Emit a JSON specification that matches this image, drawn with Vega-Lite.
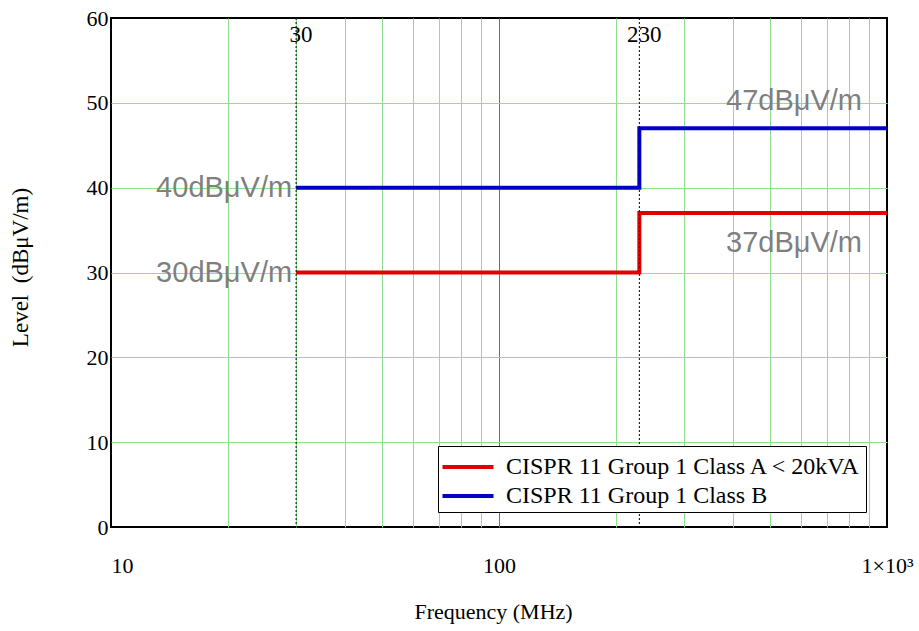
{
  "$schema": "https://vega.github.io/schema/vega-lite/v6.json",
  "width": 776,
  "height": 509,
  "autosize": "none",
  "padding": {"left": 111, "top": 18, "right": 32, "bottom": 104},
  "background": "white",
  "config": {
    "view": {"stroke": "black", "strokeWidth": 2},
    "font": "Liberation Serif"
  },
  "datasets": {
    "limits": [
      {"f": 30, "level": 30, "series": "CISPR 11 Group 1 Class A < 20kVA"},
      {"f": 230, "level": 37, "series": "CISPR 11 Group 1 Class A < 20kVA"},
      {"f": 1000, "level": 37, "series": "CISPR 11 Group 1 Class A < 20kVA"},
      {"f": 30, "level": 40, "series": "CISPR 11 Group 1 Class B"},
      {"f": 230, "level": 47, "series": "CISPR 11 Group 1 Class B"},
      {"f": 1000, "level": 47, "series": "CISPR 11 Group 1 Class B"}
    ],
    "markers": [
      {"f": 30, "level": 58, "label": "30"},
      {"f": 230, "level": 58, "label": "230"}
    ],
    "notes": [
      {"f": 30, "level": 40, "label": "40dBμV/m"},
      {"f": 30, "level": 30, "label": "30dBμV/m"},
      {"f": 883, "level": 50.2, "label": "47dBμV/m"},
      {"f": 883, "level": 33.5, "label": "37dBμV/m"}
    ]
  },
  "layer": [
    {
      "data": {"name": "limits"},
      "mark": {"type": "line", "interpolate": "step-after", "strokeWidth": 4},
      "encoding": {
        "x": {
          "field": "f",
          "type": "quantitative",
          "scale": {"type": "log", "domain": [10, 1000], "nice": false},
          "axis": {
            "title": "Frequency (MHz)",
            "titleFont": "Liberation Serif",
            "titleFontSize": 22,
            "titleFontWeight": "normal",
            "titleColor": "black",
            "titleX": 382,
            "titleY": 84,
            "titleBaseline": "middle",
            "values": [10, 20, 30, 40, 50, 60, 70, 80, 90, 100, 200, 300, 400, 500, 600, 700, 800, 900, 1000],
            "labelExpr": "datum.value == 10 ? '10' : datum.value == 100 ? '100' : datum.value == 1000 ? '1×10³' : ''",
            "labelFont": "Liberation Serif",
            "labelFontSize": 22,
            "labelColor": "black",
            "labelPadding": 28,
            "labelOverlap": false,
            "labelFlush": false,
            "labelBound": false,
            "labelAlign": {"condition": {"test": "datum.value == 10", "value": "left"}, "value": "center"},
            "ticks": false,
            "domain": false,
            "grid": true,
            "gridColor": {"condition": [
              {"test": "datum.value == 100", "value": "#6e6e6e"},
              {"test": "datum.value == 10 || datum.value == 1000", "value": "transparent"}
            ], "value": "#8fdf8f"},
            "gridWidth": 1,
            "gridOpacity": 1
          }
        },
        "y": {
          "field": "level",
          "type": "quantitative",
          "scale": {"domain": [0, 60], "nice": false, "zero": true},
          "axis": {
            "title": "Level\u00a0 (dBμV/m)",
            "titleFont": "Liberation Serif",
            "titleFontSize": 23,
            "titleFontWeight": "normal",
            "titleColor": "black",
            "titleX": -91,
            "titleY": 249,
            "titleBaseline": "middle",
            "titleAngle": -90,
            "values": [0, 10, 20, 30, 40, 50, 60],
            "labelFont": "Liberation Serif",
            "labelFontSize": 22,
            "labelColor": "black",
            "labelPadding": 3,
            "labelOverlap": false,
            "labelFlush": false,
            "ticks": false,
            "domain": false,
            "grid": true,
            "gridColor": {"condition": {"test": "datum.value == 0 || datum.value == 60", "value": "transparent"}, "value": "#8fdf8f"},
            "gridWidth": 1,
            "gridOpacity": 1
          }
        },
        "color": {
          "field": "series",
          "type": "nominal",
          "scale": {
            "domain": ["CISPR 11 Group 1 Class A < 20kVA", "CISPR 11 Group 1 Class B"],
            "range": ["#e00000", "#0000c8"]
          },
          "legend": {
            "orient": "none",
            "legendX": 327,
            "legendY": 428,
            "title": null,
            "symbolType": "M-1.1,0H2.3",
            "symbolSize": 900,
            "symbolStrokeWidth": 4,
            "labelFont": "Liberation Serif",
            "labelFontSize": 24,
            "labelColor": "black",
            "labelOffset": 30,
            "strokeColor": "black",
            "fillColor": "white",
            "padding": 4,
            "rowPadding": 0,
            "labelLimit": 500
          }
        }
      }
    },
    {
      "data": {"name": "markers"},
      "mark": {"type": "rule", "color": "black", "strokeWidth": 1, "strokeDash": [2, 2]},
      "encoding": {
        "x": {"field": "f", "type": "quantitative", "scale": {"type": "log", "domain": [10, 1000], "nice": false}}
      }
    },
    {
      "data": {"name": "markers"},
      "mark": {"type": "text", "font": "Liberation Serif", "fontSize": 23, "color": "black", "align": "center", "baseline": "middle", "dx": 5},
      "encoding": {
        "x": {"field": "f", "type": "quantitative", "scale": {"type": "log", "domain": [10, 1000], "nice": false}},
        "y": {"field": "level", "type": "quantitative", "scale": {"domain": [0, 60], "nice": false}},
        "text": {"field": "label"}
      }
    },
    {
      "data": {"name": "notes"},
      "mark": {"type": "text", "font": "Liberation Sans", "fontSize": 29, "color": "#7f7f7f", "align": "right", "baseline": "middle", "dx": -4},
      "encoding": {
        "x": {"field": "f", "type": "quantitative", "scale": {"type": "log", "domain": [10, 1000], "nice": false}},
        "y": {"field": "level", "type": "quantitative", "scale": {"domain": [0, 60], "nice": false}},
        "text": {"field": "label"}
      }
    }
  ]
}
